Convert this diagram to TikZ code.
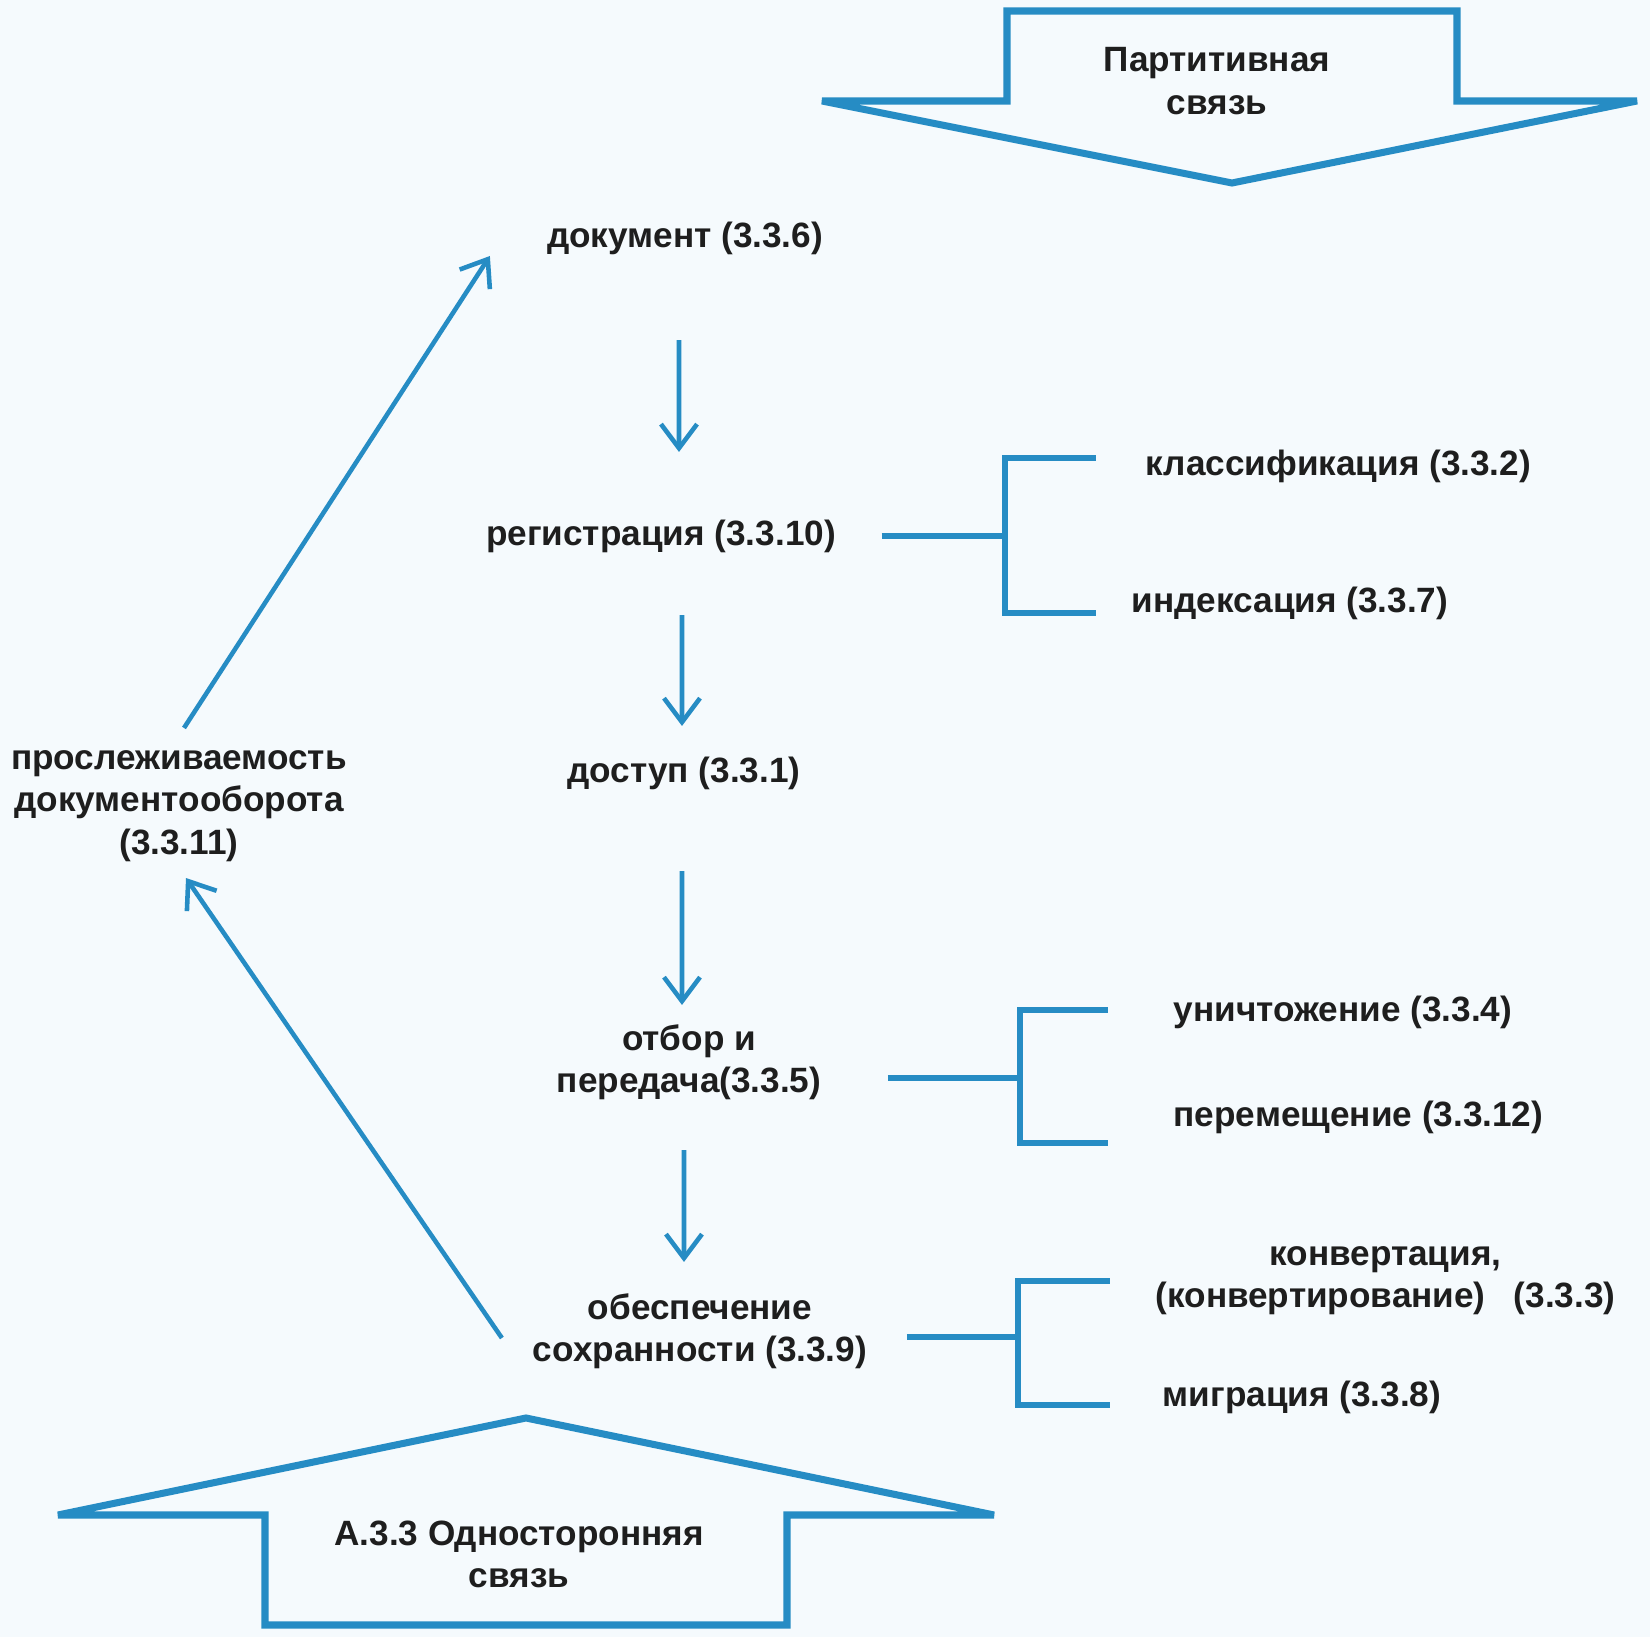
\documentclass[tikz,border=0pt]{standalone}
\usepackage{fontspec}
\setmainfont{Liberation Sans}
\usetikzlibrary{arrows.meta}
\definecolor{linkblue}{RGB}{38,140,196}
\definecolor{paper}{RGB}{245,250,253}
\definecolor{ink}{RGB}{30,30,30}
\begin{document}
\begin{tikzpicture}[x=0.01cm, y=-0.01cm]
 \tikzset{term/.style={inner sep=0pt, text=ink, font=\fontsize{10pt}{12pt}\selectfont\bfseries, align=center}}
 \tikzset{flow/.style={linkblue, line width=1.3pt, -{Straight Barb[length=2.4mm, width=3.6mm, line width=1.3pt]}}}
 \tikzset{link/.style={linkblue, line width=1.5pt}}
 \tikzset{bigarrow/.style={linkblue, line width=2pt, line join=miter, miter limit=3}}
  \fill[paper] (0,0) rectangle (1650,1637);
  \useasboundingbox (0,0) rectangle (1650,1637);
  % big arrows
  \draw[bigarrow] (822,101) -- (1007,101) -- (1007,11) -- (1457,11) -- (1457,101) -- (1637,101) -- (1232,183) -- cycle;
  \draw[bigarrow] (526,1418) -- (994,1515) -- (787,1515) -- (787,1625) -- (265,1625) -- (265,1515) -- (58,1515) -- cycle;
  \node[term] (L1) at (1217,81) {Партитивная\\связь};
  \node[term] (L2) at (519,1554) {А.3.3 Односторонняя\\связь};
  % main chain
  \node[term] (T1) at (685,238) {документ (3.3.6)};
  \node[term] (T2) at (661,536) {регистрация (3.3.10)};
  \node[term] (T3) at (684,773) {доступ (3.3.1)};
  \node[term] (T4) at (689,1062) {отбор и\\передача(3.3.5)};
  \node[term] (T5) at (700,1331) {обеспечение\\сохранности (3.3.9)};
  \node[term] (P1) at (179,806) {прослеживаемость\\документооборота\\(3.3.11)};
  % side terms
  \node[term, anchor=west] (K1) at (1145,466) {классификация (3.3.2)};
  \node[term, anchor=west] (K2) at (1131,603) {индексация (3.3.7)};
  \node[term, anchor=west] (K3) at (1173,1012) {уничтожение (3.3.4)};
  \node[term, anchor=west] (K4) at (1173,1117) {перемещение (3.3.12)};
  \node[term, anchor=west] (K5) at (1155,1281) {конвертация,\\(конвертирование)\hspace{0.8em}(3.3.3)};
  \node[term, anchor=west] (K6) at (1162,1397) {миграция (3.3.8)};
  \coordinate (F1) at (1005,536);
  \coordinate (F2) at (1020,1078);
  \coordinate (F3) at (1018,1337);
  % arrows
  \draw[flow] ([xshift=-0.06cm, yshift=-1.02cm]T1.center) -- ([xshift=0.18cm, yshift=0.84cm]T2.center);
  \draw[flow] ([xshift=0.21cm, yshift=-0.79cm]T2.center) -- ([xshift=-0.02cm, yshift=0.47cm]T3.center);
  \draw[flow] ([xshift=-0.02cm, yshift=-0.98cm]T3.center) -- ([xshift=-0.07cm, yshift=0.57cm]T4.center);
  \draw[flow] ([xshift=-0.05cm, yshift=-0.88cm]T4.center) -- ([xshift=-0.16cm, yshift=0.69cm]T5.center);
  \draw[flow] ([xshift=0.05cm, yshift=0.78cm]P1.center) -- ([xshift=-1.95cm, yshift=-0.18cm]T1.center);
  \draw[flow] ([xshift=-1.98cm, yshift=-0.07cm]T5.center) -- ([xshift=0.07cm, yshift=-0.72cm]P1.center);
  % brackets
  \draw[link, shorten <=4.5mm] (T2.east |- F1) -- (F1);
  \draw[link, shorten <=4.9mm, shorten >=3.5mm] ([yshift=0.08cm]K1.west) -| (F1) |- ([yshift=-0.10cm]K2.west);
  \draw[link, shorten <=6.6mm] (T4.east |- F2) -- (F2);
  \draw[link, shorten <=6.5mm, shorten >=6.5mm] ([yshift=0.02cm]K3.west) -| (F2) |- ([yshift=-0.26cm]K4.west);
  \draw[link, shorten <=3.9mm] (T5.east |- F3) -- (F3);
  \draw[link, shorten <=4.5mm, shorten >=5.2mm] ([yshift=0.00cm]K5.west) -| (F3) |- ([yshift=-0.08cm]K6.west);
\end{tikzpicture}
\end{document}
